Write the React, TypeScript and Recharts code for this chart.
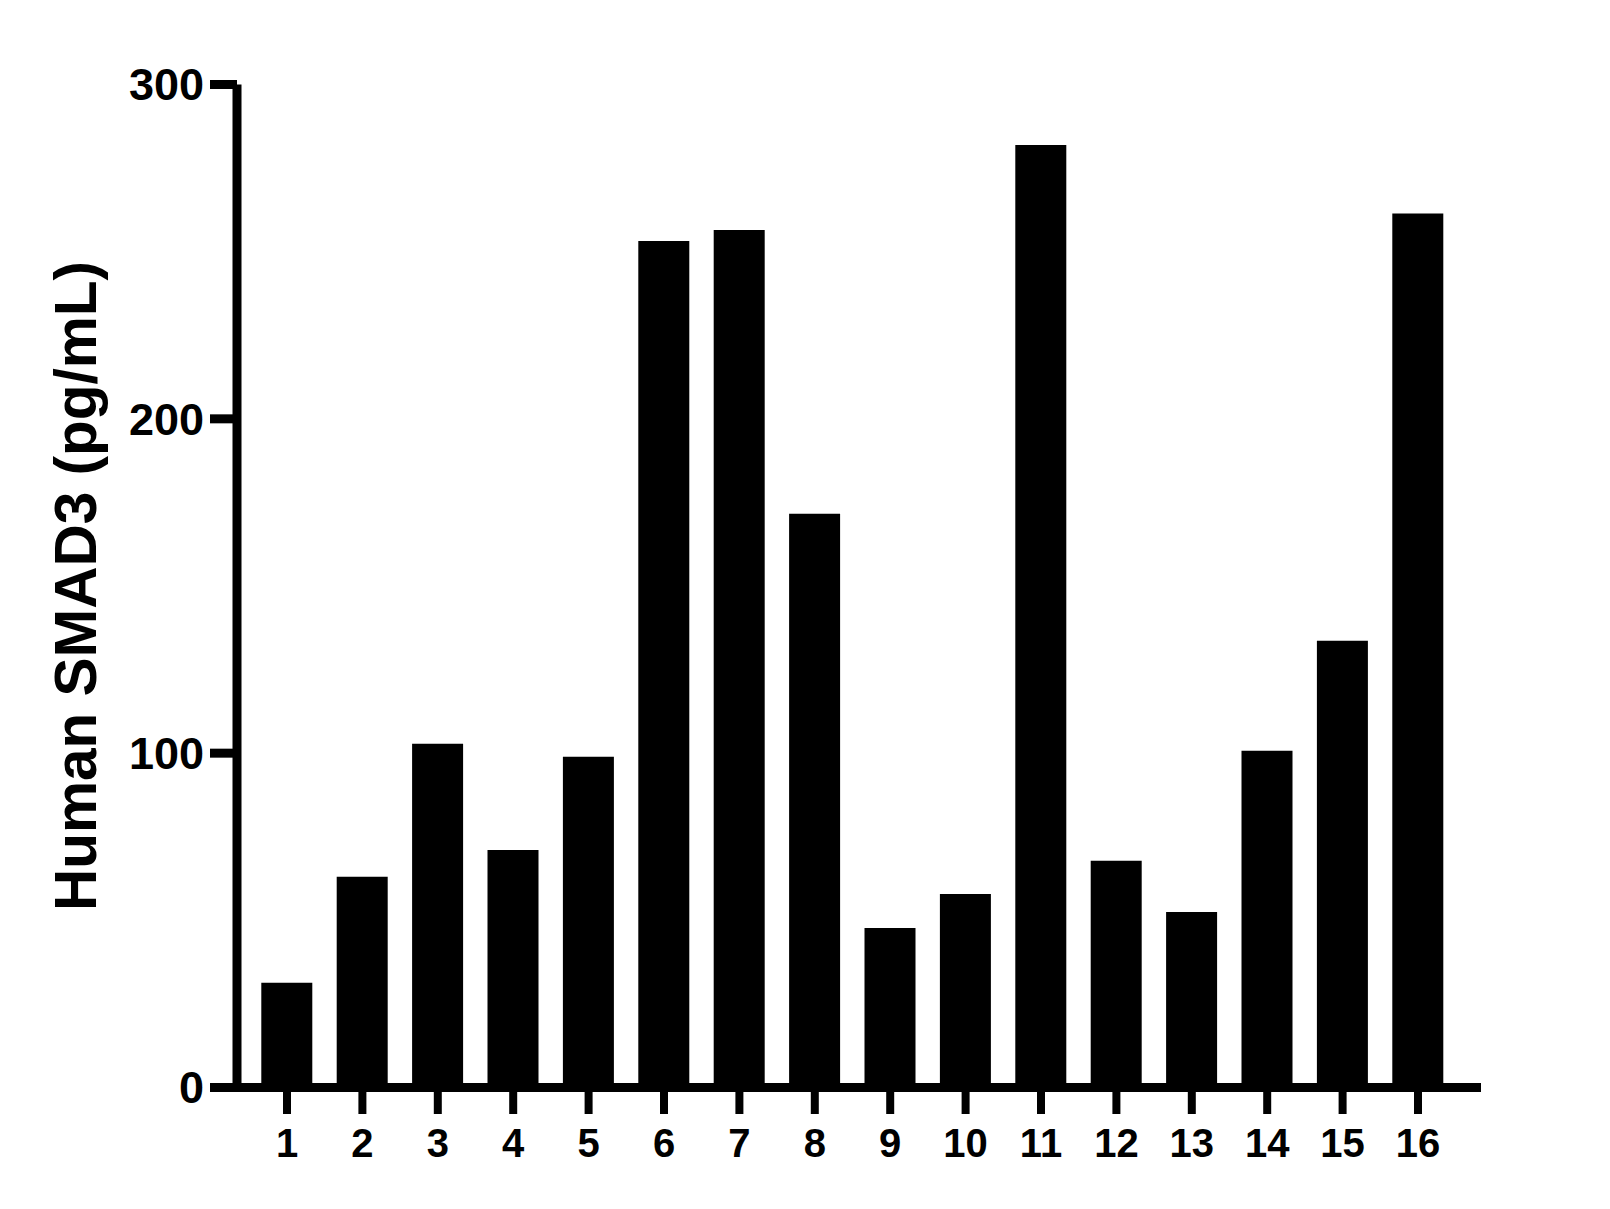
import React from "react";
import { BarChart, Bar, XAxis, YAxis } from "recharts";

const FONT = "Arial, 'Liberation Sans', sans-serif";

const SAMPLES = ["1", "2", "3", "4", "5", "6", "7", "8", "9", "10", "11", "12", "13", "14", "15", "16"];
const SMAD3_VALUES = [31.3, 63.0, 102.8, 71.0, 98.9, 253.2, 256.5, 171.6, 47.7, 57.9, 281.9, 67.8, 52.5, 100.7, 133.6, 261.4];
const Y_TICKS = [0, 100, 200, 300];
const Y_LABEL = "Human SMAD3 (pg/mL)";

const chartData = SAMPLES.map((name, i) => ({ name, value: SMAD3_VALUES[i] }));

const AxisTitle = ({ viewBox }: { viewBox?: { x: number; y: number; width: number; height: number } }) => {
  if (!viewBox) return null;
  const cx = 95.5;
  const cy = viewBox.y + viewBox.height / 2;
  return (
    <text
      x={cx}
      y={cy}
      transform={`rotate(-90, ${cx}, ${cy})`}
      textAnchor="middle"
      fill="#000"
      fontSize={58.5}
      fontWeight={700}
      fontFamily={FONT}
    >
      {Y_LABEL}
    </text>
  );
};

const App = () => {
  return (
    <div style={{ position: "absolute", left: 0, top: 0, width: 1610, height: 1209, background: "#fff" }}>
      <BarChart
        width={1610}
        height={1209}
        data={chartData}
        margin={{ top: 84.5, right: 129, bottom: 41.5, left: 0 }}
      >
        <XAxis
          dataKey="name"
          type="category"
          height={80}
          padding={{ left: 12.3, right: 25.3 }}
          axisLine={{ stroke: "#000", strokeWidth: 9 }}
          tickLine={{ stroke: "#000", strokeWidth: 8 }}
          tickSize={26.5}
          tickMargin={15}
          interval={0}
          tick={{ fill: "#000", fontSize: 40, fontWeight: 700, fontFamily: FONT }}
        />
        <YAxis
          type="number"
          width={237}
          domain={[0, 300]}
          ticks={Y_TICKS}
          interval={0}
          axisLine={{ stroke: "#000", strokeWidth: 9 }}
          tickLine={{ stroke: "#000", strokeWidth: 9 }}
          tickSize={27}
          tickMargin={6}
          tick={{ fill: "#000", fontSize: 45, fontWeight: 700, fontFamily: FONT }}
          label={<AxisTitle />}
        />
        <Bar dataKey="value" fill="#000" barSize={51} isAnimationActive={false} />
      </BarChart>
    </div>
  );
};

export default App;
